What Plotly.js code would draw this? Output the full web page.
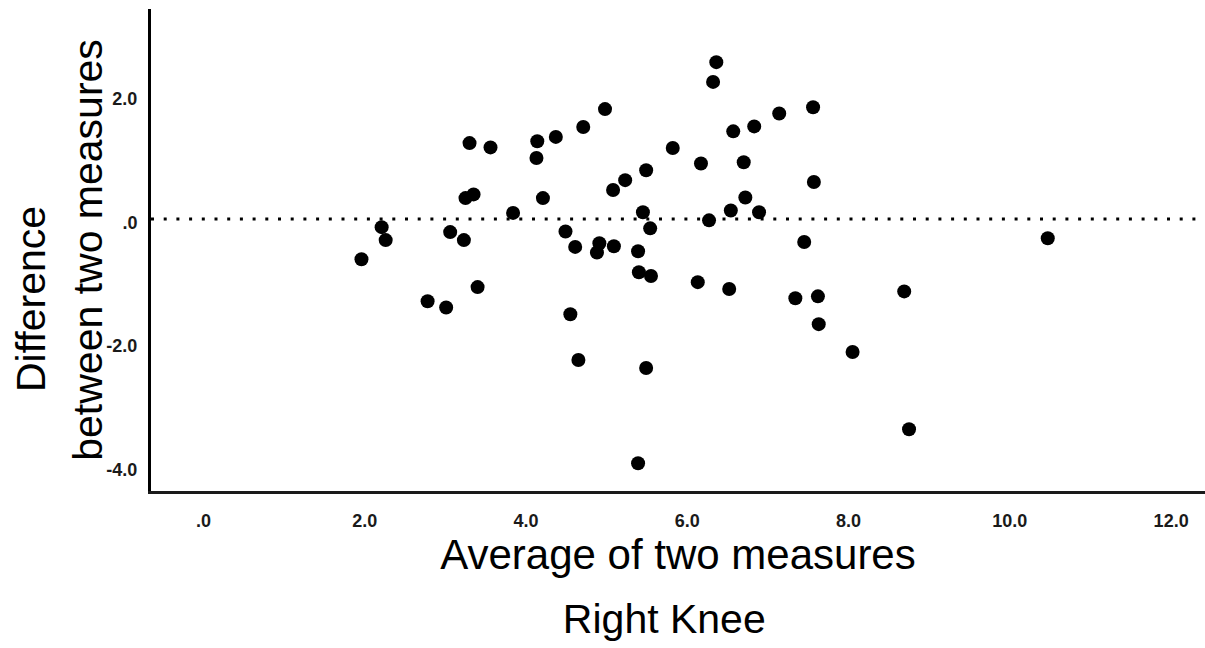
<!DOCTYPE html>
<html>
<head>
<meta charset="utf-8">
<script src="https://cdn.plot.ly/plotly-3.0.1.min.js"></script>
<style>
  html, body { margin: 0; padding: 0; background: #ffffff; }
  #chart { width: 1205px; height: 648px; }
</style>
</head>
<body>
<div id="chart"></div>
<script>
// Average of two measures (x) and difference between two measures (y), Right Knee
var averages = [
  4.13, 4.14, 4.37, 4.71, 4.98, 5.08, 5.23, 5.49, 5.82, 6.17,
  6.32, 6.36, 6.57, 6.70, 6.72, 6.83, 7.14, 7.56, 7.57, 6.89,
  6.54, 6.27, 5.45, 5.54, 1.96, 2.21, 2.26, 2.78, 3.01, 3.06,
  3.23, 3.25, 3.35, 3.30, 3.56, 3.40, 3.84, 4.21, 4.49, 4.61,
  4.55, 4.65, 4.88, 4.91, 5.09, 5.39, 5.40, 5.55, 5.49, 5.39,
  6.13, 6.52, 7.34, 7.45, 7.62, 7.63, 8.05, 8.69, 8.75, 10.47
];
var differences = [
  1.04, 1.31, 1.38, 1.54, 1.83, 0.52, 0.68, 0.84, 1.20, 0.95,
  2.27, 2.59, 1.47, 0.97, 0.40, 1.55, 1.76, 1.86, 0.65, 0.16,
  0.19, 0.03, 0.16, -0.10, -0.60, -0.08, -0.29, -1.28, -1.38, -0.16,
  -0.29, 0.39, 0.45, 1.28, 1.21, -1.05, 0.15, 0.39, -0.15, -0.40,
  -1.49, -2.23, -0.49, -0.34, -0.39, -0.47, -0.81, -0.87, -2.36, -3.90,
  -0.97, -1.08, -1.23, -0.32, -1.20, -1.65, -2.10, -1.12, -3.35, -0.26
];
var meanDifference = 0.05;

var xTickValues = [0, 2, 4, 6, 8, 10, 12];
var xTickLabels = [".0", "2.0", "4.0", "6.0", "8.0", "10.0", "12.0"];
var yTickValues = [-4, -2, 0, 2];
var yTickLabels = ["-4.0", "-2.0", ".0", "2.0"];

var chartTitle = "Right Knee";
var xTitle = "Average of two measures";
var yTitleLine1 = "Difference";
var yTitleLine2 = "between two measures";

var FONT = "Arial, 'Liberation Sans', Helvetica, sans-serif";

var trace = {
  type: "scatter",
  mode: "markers",
  x: averages,
  y: differences,
  marker: { color: "#000000", size: 14, line: { width: 0 } },
  hoverinfo: "x+y",
  showlegend: false,
  cliponaxis: false
};

var layout = {
  width: 1205,
  height: 648,
  paper_bgcolor: "#ffffff",
  plot_bgcolor: "#ffffff",
  margin: { l: 151, r: 0, t: 9, b: 157, pad: 0 },
  font: { family: FONT, color: "#000000" },
  showlegend: false,
  title: {
    text: chartTitle,
    font: { family: FONT, size: 41, color: "#000000" },
    xref: "paper",
    x: 0.487,
    xanchor: "center",
    yref: "container",
    y: 0.045,
    yanchor: "middle"
  },
  xaxis: {
    range: [-0.65, 12.42],
    tickmode: "array",
    tickvals: xTickValues,
    ticktext: xTickLabels,
    ticks: "",
    ticklabelstandoff: 11,
    tickfont: { family: FONT, size: 18, color: "#1a1a1a", weight: "bold" },
    showgrid: false,
    zeroline: false,
    showline: true,
    linecolor: "#1a1a1a",
    linewidth: 3,
    title: {
      text: xTitle,
      font: { family: FONT, size: 42, color: "#000000" },
      standoff: 5
    }
  },
  yaxis: {
    range: [-4.35, 3.45],
    tickmode: "array",
    tickvals: yTickValues,
    ticktext: yTickLabels,
    ticks: "",
    ticklabelstandoff: 7,
    tickfont: { family: FONT, size: 18, color: "#1a1a1a", weight: "bold" },
    showgrid: false,
    zeroline: false,
    showline: true,
    linecolor: "#000000",
    linewidth: 3
  },
  shapes: [
    {
      type: "line",
      xref: "paper",
      x0: 0,
      x1: 1,
      yref: "y",
      y0: meanDifference,
      y1: meanDifference,
      line: { color: "#000000", width: 3, dash: "3px,9.7px" },
      layer: "below"
    }
  ],
  annotations: [
    {
      text: yTitleLine1,
      textangle: -90,
      xref: "paper",
      yref: "paper",
      x: -0.114,
      y: 0.398,
      xanchor: "center",
      yanchor: "middle",
      showarrow: false,
      font: { family: FONT, size: 41, color: "#000000" }
    },
    {
      text: yTitleLine2,
      textangle: -90,
      xref: "paper",
      yref: "paper",
      x: -0.06,
      y: 0.5,
      xanchor: "center",
      yanchor: "middle",
      showarrow: false,
      font: { family: FONT, size: 41, color: "#000000" }
    }
  ]
};

Plotly.newPlot("chart", [trace], layout, { displayModeBar: false, staticPlot: true });
</script>
</body>
</html>
